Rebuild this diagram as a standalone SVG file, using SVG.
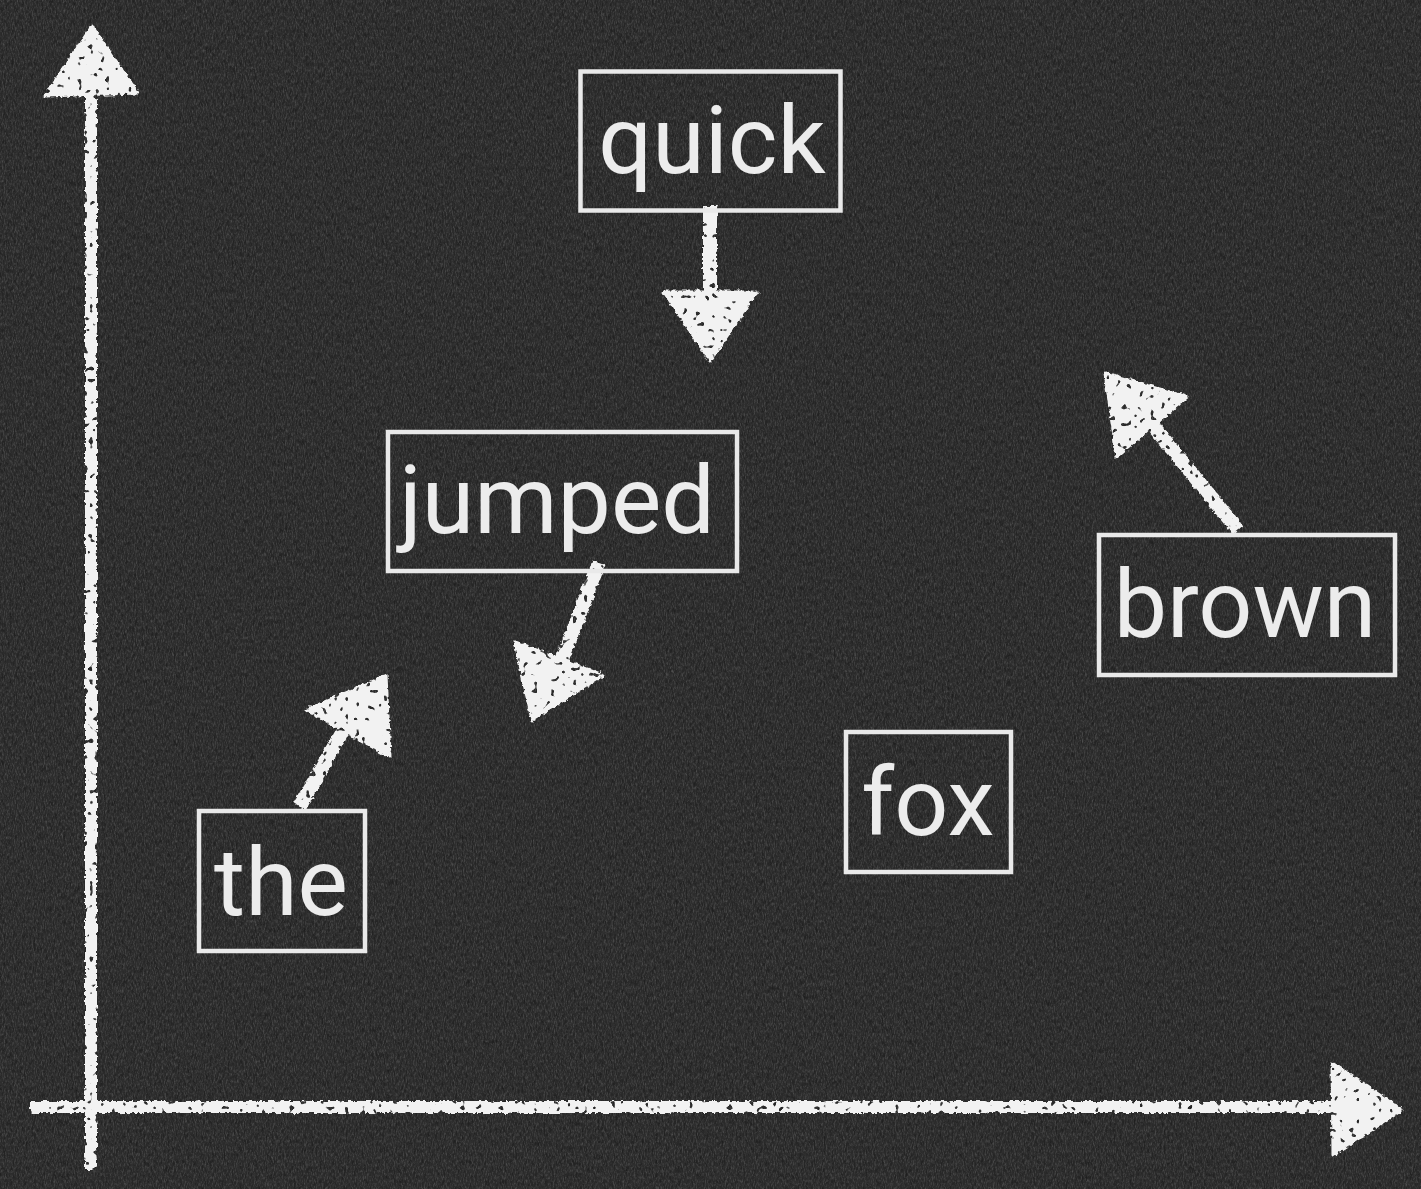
<svg xmlns="http://www.w3.org/2000/svg" width="1421" height="1189" viewBox="0 0 1421 1189">
  <defs>
    <filter id="grain" filterUnits="userSpaceOnUse" x="0" y="0" width="1421" height="1189">
      <feTurbulence type="fractalNoise" baseFrequency="0.9 0.3" numOctaves="3" seed="7"/>
      <feColorMatrix type="matrix" values="0 0 0 0 1  0 0 0 0 1  0 0 0 0 1  1.4 0 0 0 -0.62"/>
    </filter>
    <filter id="dark" filterUnits="userSpaceOnUse" x="0" y="0" width="1421" height="1189">
      <feTurbulence type="fractalNoise" baseFrequency="0.5 0.15" numOctaves="2" seed="11"/>
      <feColorMatrix type="matrix" values="0 0 0 0 0  0 0 0 0 0  0 0 0 0 0  1.4 0 0 0 -0.55"/>
    </filter>
    <filter id="chalk" filterUnits="userSpaceOnUse" x="0" y="0" width="1421" height="1189">
      <feTurbulence type="fractalNoise" baseFrequency="0.25" numOctaves="2" seed="2" result="n"/>
      <feDisplacementMap in="SourceGraphic" in2="n" scale="5" xChannelSelector="R" yChannelSelector="G" result="d"/>
      <feTurbulence type="fractalNoise" baseFrequency="0.18" numOctaves="1" seed="4" result="s"/>
      <feColorMatrix in="s" type="matrix" values="0 0 0 0 0  0 0 0 0 0  0 0 0 0 0  -16 0 0 0 11.2" result="holes"/>
      <feComposite in="d" in2="holes" operator="in"/>
    </filter>
    <style>
      .box { fill: none; stroke: #e9e9e9; stroke-width: 4.5; }
      .lbl { font-family: Roboto, "Liberation Sans", sans-serif; font-size: 95px; fill: #ececec; text-anchor: middle; }
      .shaft { fill: none; stroke: #f2f2f2; stroke-width: 14; stroke-linecap: butt; }
      .axis { fill: none; stroke: #f2f2f2; stroke-width: 12; }
      .head { fill: #f2f2f2; stroke: #f2f2f2; stroke-width: 3; stroke-linejoin: round; }
    </style>
  </defs>

  <g id="background">
    <rect x="0" y="0" width="1421" height="1189" fill="#2e2e2e"/>
    <rect x="0" y="0" width="1421" height="1189" filter="url(#dark)" opacity="0.5"/>
    <rect x="0" y="0" width="1421" height="1189" filter="url(#grain)" opacity="0.25"/>
  </g>

  <g id="connectors" filter="url(#chalk)">
    <g id="y-axis">
      <path class="axis" d="M91,1170 L91,80"/>
      <polygon class="head" points="92,26 138,93 45,96"/>
    </g>
    <g id="x-axis">
      <path class="axis" d="M30,1107 L1350,1107"/>
      <polygon class="head" points="1402,1110 1332,1063 1333,1155"/>
    </g>
    <g id="quick-arrow">
      <path class="shaft" d="M710,206 L710,300"/>
      <polygon class="head" points="664,292 757,292 710,361"/>
    </g>
    <g id="jumped-arrow">
      <path class="shaft" d="M599,563 L562,660"/>
      <polygon class="head" points="515,642 603,675 532,720"/>
    </g>
    <g id="the-arrow">
      <path class="shaft" d="M300,806 L345,727"/>
      <polygon class="head" points="307,710 386,675 390,757"/>
    </g>
    <g id="brown-arrow">
      <path class="shaft" d="M1238,530 L1150,422"/>
      <polygon class="head" points="1105,373 1187,397 1117,457"/>
    </g>
  </g>

  <g id="node-quick">
    <rect class="box" x="580.5" y="71.5" width="260" height="139"/>
    <text class="lbl" x="712" y="173">quick</text>
  </g>
  <g id="node-jumped">
    <rect class="box" x="388" y="432" width="349" height="139"/>
    <text class="lbl" x="557" y="533">jumped</text>
  </g>
  <g id="node-the">
    <rect class="box" x="199" y="811" width="166" height="140"/>
    <text class="lbl" x="281" y="915">the</text>
  </g>
  <g id="node-brown">
    <rect class="box" x="1099" y="535" width="296" height="140"/>
    <text class="lbl" x="1245" y="637">brown</text>
  </g>
  <g id="node-fox">
    <rect class="box" x="846" y="732" width="165" height="140"/>
    <text class="lbl" x="928" y="835">fox</text>
  </g>
</svg>
